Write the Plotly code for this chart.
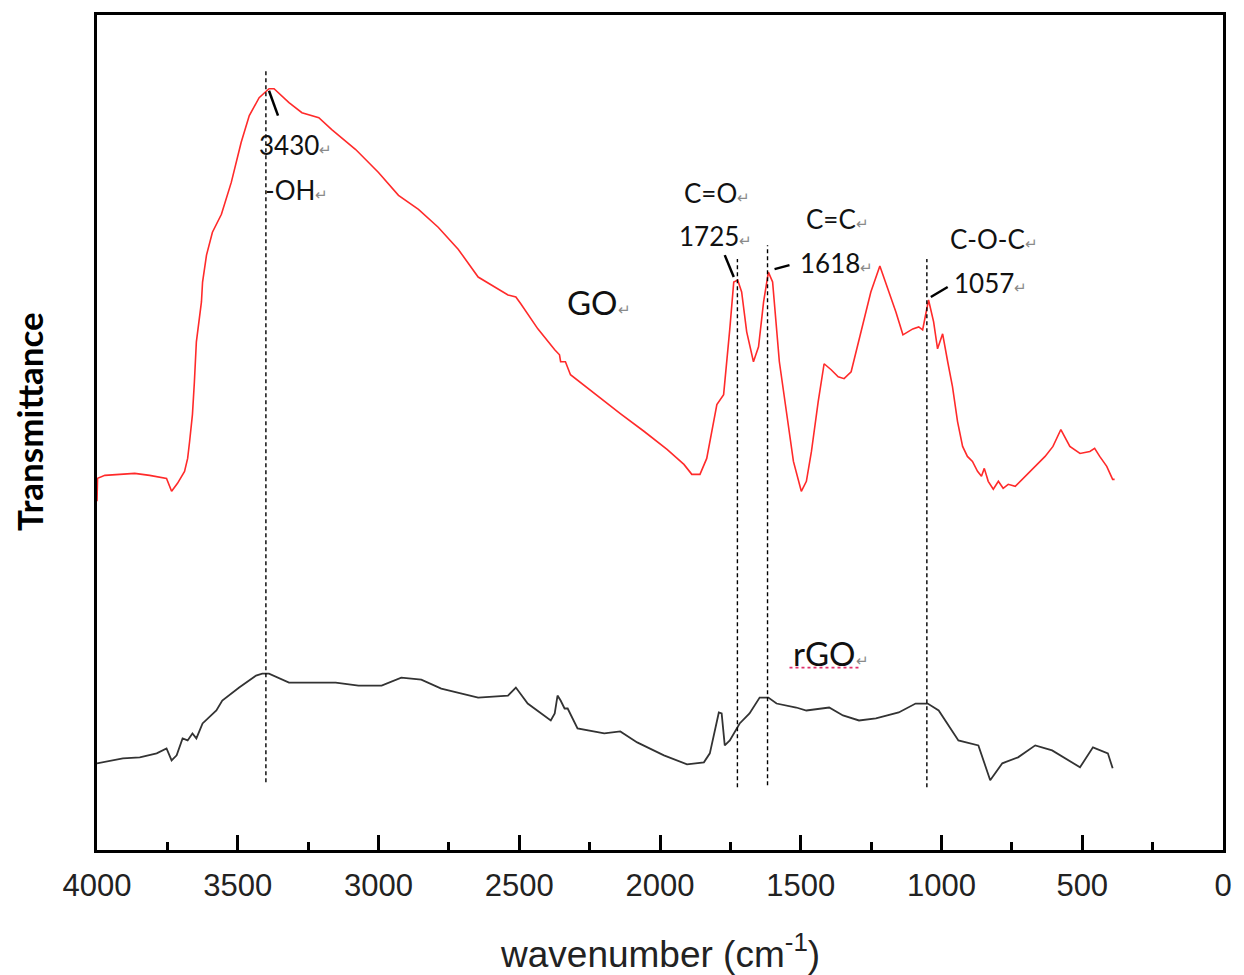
import plotly.graph_objects as go

# ---------------- data (wavenumber in cm-1, transmittance in arbitrary units) ----------------
go_wn = [4000, 3998, 3972, 3919, 3866, 3813, 3777, 3753, 3735, 3714, 3689, 3678, 3671, 3661, 3654,
         3647, 3629, 3625, 3611, 3590, 3558, 3523, 3488, 3459, 3424, 3389, 3371, 3318, 3272, 3212,
         3166, 3081, 3000, 2929, 2858, 2788, 2717, 2646, 2540, 2512, 2494, 2434, 2374, 2357, 2353,
         2336, 2318, 2233, 2141, 2056, 1975, 1915, 1887, 1858, 1834, 1798, 1774, 1752, 1738, 1724,
         1710, 1692, 1668, 1650, 1632, 1615, 1600, 1576, 1551, 1526, 1498, 1480, 1462, 1438, 1417,
         1392, 1367, 1346, 1321, 1286, 1251, 1219, 1187, 1162, 1137, 1102, 1081, 1067, 1046, 1028,
         1014, 996, 978, 961, 943, 925, 908, 890, 872, 858, 848, 834, 816, 798, 781,
         763, 738, 703, 667, 632, 604, 576, 544, 508, 473, 456, 438, 413, 392, 385]
go_t = [350, 373, 376, 377, 378, 376, 374, 373, 360, 368, 380, 393, 410, 437, 470,
        510, 550, 570, 597, 620, 638, 670, 710, 737, 755, 764, 764, 750, 740, 735,
        723, 703, 680, 657, 643, 625, 603, 575, 557, 555, 548, 523, 502, 497, 490,
        490, 477, 458, 438, 420, 402, 387, 377, 377, 393, 447, 457, 523, 570, 572,
        560, 520, 490, 505, 550, 580, 570, 490, 440, 390, 360, 370, 400, 450, 488,
        482, 475, 473, 480, 520, 560, 586, 560, 540, 517, 523, 525, 522, 552, 530,
        503, 518, 490, 465, 430, 405, 395, 390, 380, 375, 383, 370, 362, 370, 363,
        367, 365, 375, 385, 395, 405, 422, 405, 398, 400, 403, 395, 385, 372, 372]

rgo_wn = [4000, 3908, 3848, 3788, 3753, 3735, 3717, 3696, 3678, 3661, 3647, 3625, 3576, 3555, 3495,
          3435, 3413, 3389, 3318, 3152, 3071, 2989, 2919, 2848, 2777, 2717, 2646, 2540, 2512, 2470,
          2388, 2374, 2364, 2353, 2339, 2328, 2293, 2198, 2141, 2081, 1986, 1904, 1844, 1823, 1805,
          1791, 1781, 1770, 1752, 1717, 1682, 1646, 1615, 1586, 1516, 1480, 1399, 1350, 1293, 1233,
          1152, 1092, 1049, 1010, 940, 869, 827, 784, 728, 667, 607, 551, 508, 462, 409, 392]
rgo_t = [87, 92, 93, 97, 102, 90, 95, 112, 110, 117, 112, 127, 140, 150, 163,
         175, 177, 177, 168, 168, 165, 165, 173, 171, 162, 158, 153, 155, 163, 147,
         130, 137, 155, 150, 142, 142, 122, 117, 119, 108, 95, 86, 88, 97, 120,
         138, 137, 105, 110, 127, 137, 153, 153, 147, 143, 140, 143, 135, 130, 132,
         138, 147, 147, 140, 110, 105, 70, 87, 93, 105, 100, 90, 83, 103, 97, 82]

x_ticks = [4000, 3500, 3000, 2500, 2000, 1500, 1000, 500, 0]
x_tick_labels = ["4000", "3500", "3000", "2500", "2000", "1500", "1000", "500", "0"]

# marked peaks: position of dashed guide line, bottom and top of the guide
peak_pos = [3400, 1725, 1618, 1052]
peak_lo = [68, 63, 65, 63]
peak_hi = [782, 593, 607, 593]

# labels: (text, wavenumber of left edge, height, size)
labels = [("3430", 3431, 708, 26), ("-OH", 3410, 662, 26),
          ("C=O", 1922, 659, 26), ("1725", 1940, 616, 26),
          ("C=C", 1487, 633, 26), ("1618", 1509, 589, 26),
          ("C-O-C", 978, 613, 26), ("1057", 961, 569, 26),
          ("GO", 2339, 550, 33), ("rGO", 1533, 198, 33)]

# short solid leader lines (x0, y0, x1, y1)
leaders = [(3389, 762, 3357, 737), (1770, 597, 1738, 575),
           (1593, 583, 1540, 587), (1038, 555, 978, 565)]

fig = go.Figure()
fig.add_trace(go.Scatter(x=go_wn, y=go_t, mode="lines", name="GO",
                         line=dict(color="#ff2a2a", width=1.6), showlegend=False))
fig.add_trace(go.Scatter(x=rgo_wn, y=rgo_t, mode="lines", name="rGO",
                         line=dict(color="#333333", width=1.8), showlegend=False))

for p, lo, hi in zip(peak_pos, peak_lo, peak_hi):
    fig.add_shape(type="line", x0=p, x1=p, y0=lo, y1=hi, xref="x", yref="y",
                  line=dict(color="black", width=1.4, dash="4px,3px"))

for x0, y0, x1, y1 in leaders:
    fig.add_shape(type="line", x0=x0, x1=x1, y0=y0, y1=y1, xref="x", yref="y",
                  line=dict(color="black", width=2.5))

# spell-check style dotted underline under rGO
fig.add_shape(type="line", x0=1540, x1=1286, y0=183, y1=183, xref="x", yref="y",
              line=dict(color="#e0306a", width=1.6, dash="dot"))

for txt, xl, yy, sz in labels:
    fig.add_annotation(x=xl, y=yy, xref="x", yref="y", xanchor="left", yanchor="middle",
                       text=txt + '<span style="font-size:15px;color:#8a8a8a">↵</span>',
                       showarrow=False, font=dict(family="Lato, Open Sans, sans-serif",
                                                  size=sz, color="#111111"))

# y axis title
fig.add_annotation(x=-0.061, y=0.513, xref="paper", yref="paper", textangle=-90,
                   xanchor="center", yanchor="middle",
                   text="<b>Transmittance</b>", showarrow=False,
                   font=dict(family="Lato, Open Sans, sans-serif", size=35, color="black"))

# x axis title
fig.add_annotation(x=0.5, y=-0.122, xref="paper", yref="paper", xanchor="center", yanchor="middle",
                   text="wavenumber (cm<sup>-1</sup>)", showarrow=False,
                   font=dict(family="Liberation Sans, Arial", size=37, color="#222222"))

fig.update_layout(
    width=1244, height=975,
    margin=dict(l=97, r=15, t=12, b=125),
    paper_bgcolor="white", plot_bgcolor="white",
    xaxis=dict(range=[4000, 0], tickmode="array", tickvals=x_ticks, ticktext=x_tick_labels,
               ticks="inside", ticklen=15, tickwidth=2.5, tickcolor="black",
               minor=dict(ticks="inside", ticklen=8, tickwidth=2.5, tickcolor="black", dtick=250),
               showline=True, linewidth=3, linecolor="black", mirror=True,
               showgrid=False, zeroline=False, ticklabelstandoff=6,
               tickfont=dict(family="Liberation Sans, Arial", size=31, color="#222222")),
    yaxis=dict(range=[0, 838], showticklabels=False, ticks="", showgrid=False, zeroline=False,
               showline=True, linewidth=3, linecolor="black", mirror=True),
)

fig.write_html("out.html")
